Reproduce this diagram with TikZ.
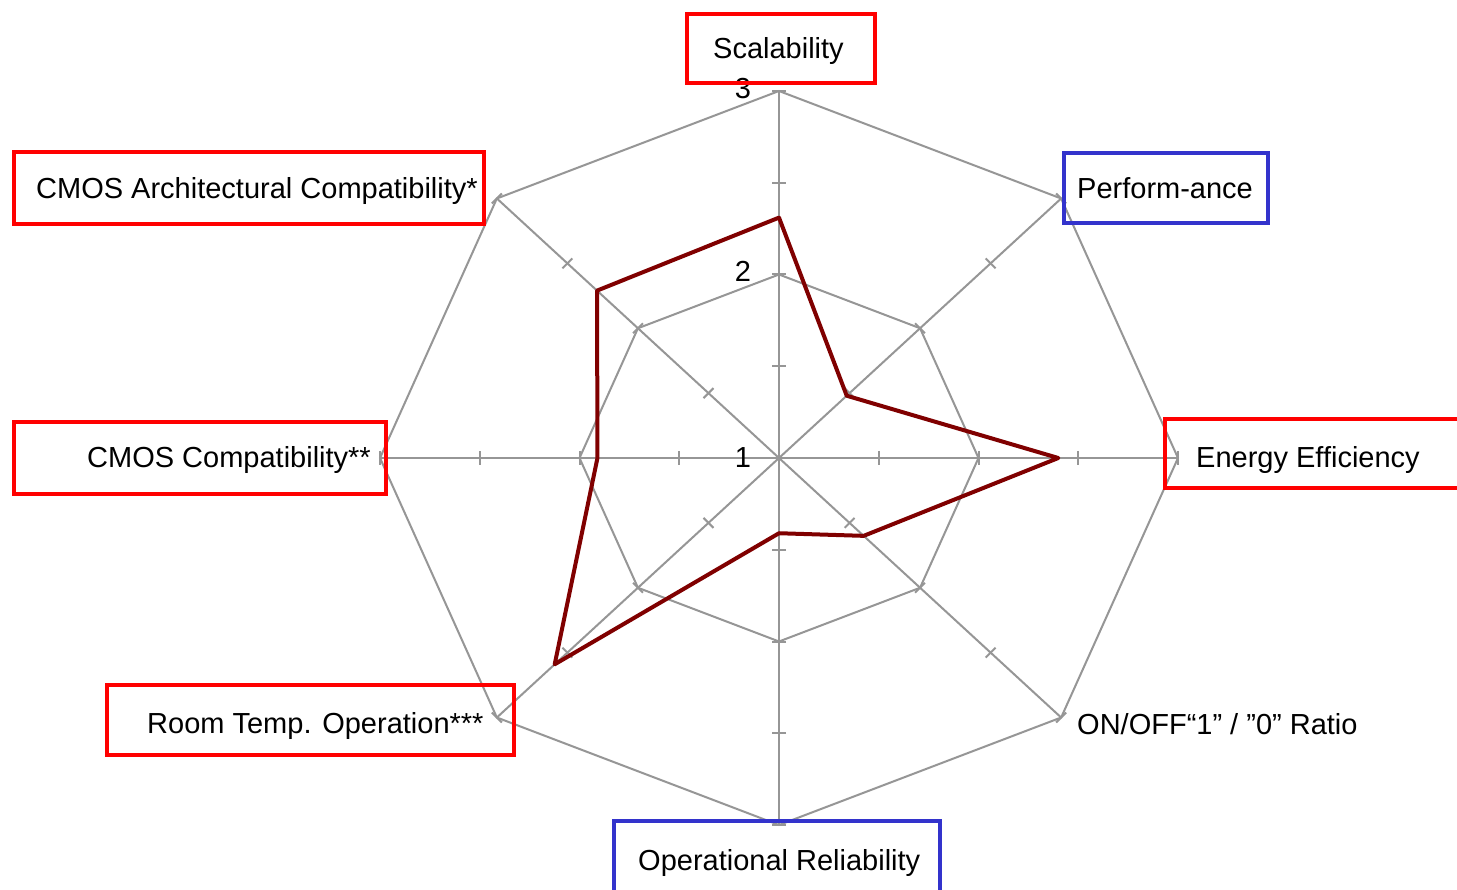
\documentclass[tikz,border=0pt]{standalone}
\usepackage{fontspec}
\setmainfont{Liberation Sans}
\usepackage{tikz}
\definecolor{gridgray}{RGB}{150,150,150}
\definecolor{datared}{RGB}{128,0,0}
\definecolor{boxblue}{RGB}{51,51,204}
\tikzset{
  redbox/.style={draw=red, line width=4pt},
  bluebox/.style={draw=boxblue, line width=4pt},
  lbl/.style={anchor=base west, inner sep=0pt, font=\fontsize{29}{35}\selectfont},
  gridline/.style={draw=gridgray, line width=2pt},
  dataline/.style={draw=datared, line width=4pt, line join=round}
}
\begin{document}
\begin{tikzpicture}[x=1pt,y=-1pt]
       \path[use as bounding box, clip] (0,0) rectangle (1457,890);
       \fill[white] (0,0) rectangle (1457,890);
       \begin{scope}[shift={(779,458)},x=199.5pt,y=183.5pt]
         \foreach \a in {0,45,...,315}
           \draw[gridline] (0,0) -- (\a:2);
         \foreach \r in {1,2}
           \draw[gridline] (90:\r) \foreach \a in {45,0,...,-225} { -- (\a:\r) } -- cycle;
         \foreach \a in {0,45,...,315}
           \foreach \r in {0.5,1,1.5,2}
             \draw[gridline] ([shift={(\a+90:7pt)}]\a:\r) -- ([shift={(\a-90:7pt)}]\a:\r);
         \draw[dataline] (90:1.31) -- (45:0.48) -- (0:1.4) -- (-45:0.6) -- (-90:0.41)
           -- (-135:1.59) -- (180:0.91) -- (135:1.29) -- cycle;
       \end{scope}
       \node[lbl, anchor=base] (val3) at (743,98.5) {3};
       \node[lbl, anchor=base] (val2) at (743,281.5) {2};
       \node[lbl, anchor=base] (val1) at (743,467.5) {1};
       \draw[redbox] (687,14) rectangle (875,83);
       \draw[bluebox] (1064,153) rectangle (1268,223);
       \draw[redbox] (1165,419) rectangle (1470,488);
       \draw[bluebox] (614,821) rectangle (940,900);
       \draw[redbox] (14,152) rectangle (484,224);
       \draw[redbox] (14,422) rectangle (386,494);
       \draw[redbox] (107,685) rectangle (514,755);
       \node[lbl] (scal) at (713,59) {Scalability};
       \node[lbl] (perf) at (1077,198.5) {Perform-ance};
       \node[lbl] (energy) at (1196,467.5) {Energy Efficiency};
       \node[lbl] (onoff) at (1077,734.5) {ON/OFF“1” / ”0” Ratio};
       \node[lbl] (oprel) at (638,870.5) {Operational Reliability};
       \node[lbl] (roomt) at (147,733.5) {Room Temp. Operation***};
       \node[lbl] (cmosc) at (87,467.5) {CMOS Compatibility**};
       \node[lbl] (cmosa) at (36,198.5) {CMOS Architectural Compatibility*};
\end{tikzpicture}
\end{document}
